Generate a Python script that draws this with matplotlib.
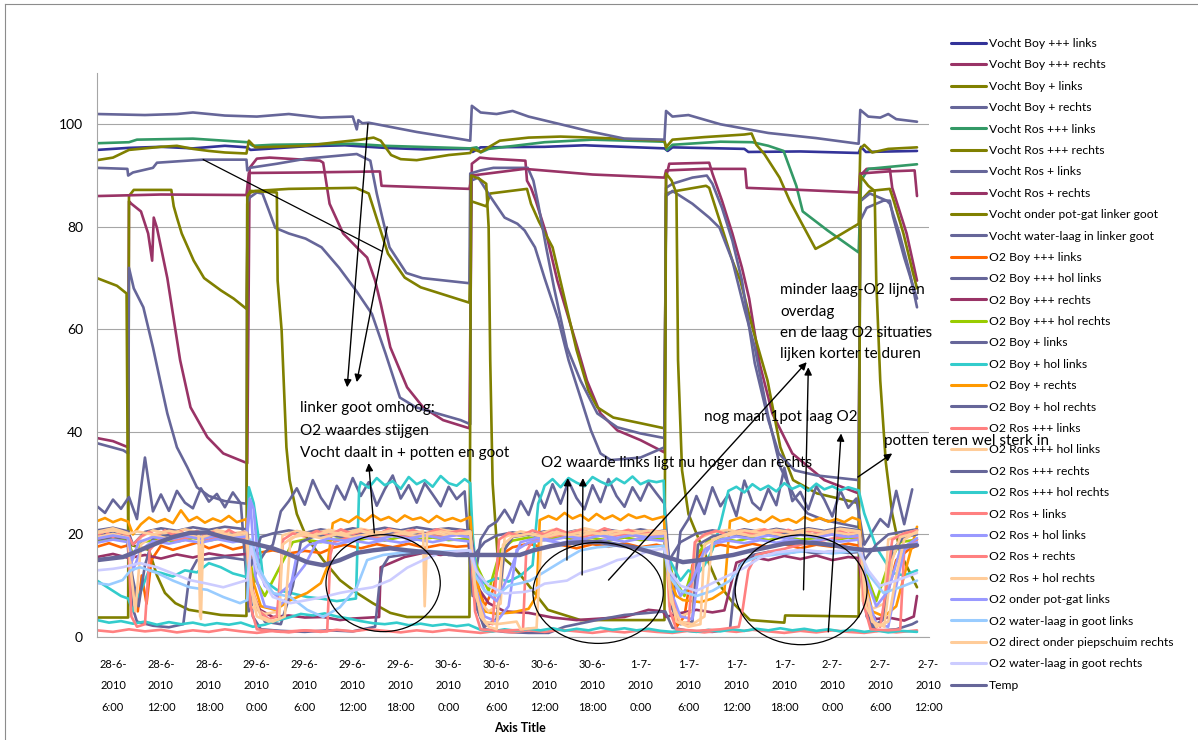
import numpy as np
import matplotlib
matplotlib.use('Agg')
import matplotlib.pyplot as plt
from matplotlib.lines import Line2D
from matplotlib.patches import Ellipse

plt.rcParams['font.family'] = ['Lato', 'DejaVu Sans']

# all times in hours since 28-6-2010 0:00

# --- Vocht (moisture) series: (hour, value) ---
VOCHT_BOY3_LINKS = [(4, 95.0), (8, 95.4), (12, 95.6), (16, 95.3), (20, 95.8), (22.8, 95.5), (23.2, 95.0),
                    (30, 95.7), (35, 95.9), (40, 95.4), (45, 95.1), (50.7, 95.2), (51, 94.6), (52, 95.5),
                    (60, 95.6), (65, 95.9), (70, 95.6), (75, 95.3), (75.4, 94.8), (76, 95.5), (85, 95.2),
                    (85.5, 94.6), (92, 94.7), (99.3, 94.4), (99.6, 95.6), (100.2, 94.6), (106.6, 94.8)]

VOCHT_BOY3_RECHTS = [(4, 38.8), (6, 38.2), (7.9, 37.0), (8.0, 85.0), (8.3, 84.5), (9.5, 83.0), (10.4, 78.7),
                     (10.9, 73.4), (11.1, 81.8), (11.5, 79.8), (12.8, 70.0), (14.4, 54.0), (15.7, 44.8),
                     (17.8, 39.0), (19.8, 35.8), (22.8, 33.9),
                     (23.1, 91.5), (24.0, 93.3), (25.6, 93.5), (31.9, 92.9), (32.3, 92.5), (33.1, 84.5),
                     (34.8, 78.7), (36.5, 76.0), (37.8, 74.0), (38.8, 69.5), (39.5, 65.0), (40.7, 56.5),
                     (42.8, 48.7), (44.8, 44.8), (47.3, 42.3), (50.6, 40.7),
                     (50.9, 92.3), (51.9, 93.5), (53.1, 93.3), (57.6, 92.9), (57.8, 89.0), (58.3, 87.6),
                     (58.9, 85.1), (60.2, 78.7), (61.6, 69.5), (64.1, 56.5), (65.3, 50.0), (67.0, 43.6),
                     (69.1, 40.3), (72.0, 38.4), (75.0, 36.0),
                     (75.2, 89.6), (75.6, 92.3), (80.6, 92.5), (81.0, 90.4), (82.2, 85.1), (83.5, 78.7),
                     (84.7, 72.0), (85.6, 66.0), (86.9, 53.4), (88.5, 43.6), (91.0, 35.8), (95.0, 30.6),
                     (99.3, 28.0),
                     (99.5, 90.0), (100.3, 91.3), (103.2, 91.3), (103.5, 87.6), (105.3, 78.7), (106.6, 69.5)]

VOCHT_BOY_LINKS = [(4, 3.8), (7.9, 3.8), (8.0, 86.0), (8.6, 87.2), (13.3, 87.2), (13.6, 84.0), (14.0, 81.8),
                   (14.6, 78.7), (16.1, 73.4), (17.4, 70.0), (19.5, 67.6), (21.1, 66.0), (22.7, 64.0),
                   (22.9, 86.5), (23.8, 87.0), (28.0, 87.4), (36.4, 87.6), (38.0, 86.5), (38.8, 82.6),
                   (40.4, 74.8), (42.5, 70.1), (44.5, 68.2), (50.6, 65.2),
                   (50.8, 85.0), (52.7, 84.0), (53.2, 86.5), (57.8, 87.4), (58.3, 84.5), (59.3, 81.0),
                   (61.0, 76.0), (62.5, 66.0), (64.0, 56.0), (65.5, 48.0), (66.6, 44.8), (68.6, 42.8),
                   (72.0, 41.7), (75.0, 40.7),
                   (75.2, 86.5), (76.5, 87.0), (80.2, 88.0), (80.6, 87.6), (81.5, 83.2), (82.2, 79.8),
                   (83.5, 73.4), (84.5, 69.5), (86.1, 59.8), (87.9, 50.0), (89.5, 37.0), (91.1, 30.6),
                   (94.1, 28.0), (99.3, 26.1),
                   (99.5, 85.0), (100.7, 87.0), (103.2, 87.4), (103.7, 85.0), (104.9, 78.7), (106.1, 71.0),
                   (106.6, 68.0)]

VOCHT_BOY_RECHTS = [(4, 91.5), (7.8, 91.3), (7.9, 90.0), (8.5, 90.6), (11.0, 91.5), (11.5, 92.5), (17.2, 93.1),
                    (22.7, 93.1), (22.8, 91.0), (23.1, 91.5), (26.5, 92.3), (30.2, 93.3), (36.5, 94.2),
                    (38.2, 92.9), (39.0, 86.5), (39.7, 81.8), (40.6, 76.0), (42.7, 71.0), (44.7, 70.0),
                    (50.6, 69.0),
                    (50.7, 90.4), (52.0, 91.0), (53.6, 91.5), (57.9, 91.5), (58.6, 89.0), (59.2, 84.5),
                    (60.2, 76.0), (61.2, 68.0), (62.8, 56.5), (64.5, 50.0), (66.6, 43.6), (69.1, 40.9),
                    (72.0, 39.7), (75.0, 38.8),
                    (75.2, 87.6), (76.0, 88.4), (78.5, 89.6), (80.3, 90.0), (81.0, 88.4), (82.2, 83.7),
                    (83.5, 77.3), (84.7, 69.5), (86.3, 53.4), (88.0, 42.3), (89.3, 35.8), (91.3, 32.5),
                    (94.1, 31.5), (99.3, 30.6),
                    (99.5, 85.0), (100.7, 86.5), (102.8, 85.1), (103.2, 84.5), (104.4, 78.7), (105.7, 71.0),
                    (106.6, 64.3)]

VOCHT_ROS3_LINKS = [(4, 96.3), (8, 96.5), (9, 97.0), (16, 97.2), (22.8, 96.5), (23.5, 95.8), (26, 96.0),
                    (36, 96.2), (40, 95.8), (50.7, 95.3), (51.5, 95.5), (52, 94.5), (53, 95.2), (60, 96.5),
                    (66, 97.0), (75, 96.6), (75.3, 95.0), (76, 96.0), (82, 96.6), (86, 96.5), (88, 95.8),
                    (89.9, 94.8), (91.5, 88.0), (92.3, 83.0), (95.4, 79.3), (99.3, 75.0), (99.6, 89.0),
                    (100.5, 91.3), (106.6, 92.2)]

VOCHT_ROS3_RECHTS = [(4, 93.0), (6, 93.5), (8, 95.0), (10, 95.3), (12, 95.6), (14, 95.8), (16, 95.2),
                     (18, 94.8), (20, 94.5), (22.7, 94.3), (23.0, 96.8), (23.8, 95.5), (26, 95.6), (30, 95.8),
                     (34, 96.5), (37, 97.0), (38.6, 97.4), (39.5, 96.8), (40.8, 94.0), (42, 93.2), (44, 93.0),
                     (48, 94.0), (50.7, 94.4), (51.0, 95.2), (52, 94.6), (54.4, 96.8), (58, 97.4), (62, 97.6),
                     (66, 97.4), (72, 97.0), (75.0, 96.8), (75.2, 95.5), (76, 97.0), (80, 97.5), (85, 98.0),
                     (85.9, 98.2), (86.5, 96.0), (87.5, 94.2), (89.4, 89.6), (90.7, 85.0), (92, 81.2),
                     (93.9, 75.7), (95.1, 76.7), (99.3, 80.6), (99.5, 95.2), (100, 96.0), (101, 94.5),
                     (103, 95.2), (106.6, 95.5)]

VOCHT_ROS_LINKS = [(4, 37.8), (7.3, 36.4), (7.9, 35.8), (8.0, 72.0), (8.6, 68.0), (9.8, 64.3), (11.0, 56.5),
                   (11.9, 50.0), (12.8, 43.6), (14.0, 37.0), (15.3, 33.1), (16.5, 29.2), (18, 27.5), (20, 26.5),
                   (22.7, 26.0),
                   (22.8, 84.5), (23.1, 85.7), (24.0, 86.7), (24.7, 86.5), (25.5, 83.2), (26.3, 79.8),
                   (28.0, 78.7), (30.1, 77.7), (32.1, 76.0), (34.3, 72.0), (36.4, 67.6), (38.4, 63.0),
                   (40.1, 55.3), (41.9, 46.7), (43.9, 44.8), (49.5, 42.3), (50.7, 41.5),
                   (50.8, 89.0), (51.7, 89.6), (53.3, 85.7), (55.0, 81.8), (56.6, 80.6), (57.5, 79.3),
                   (58.8, 76.0), (60.0, 70.0), (61.7, 62.0), (63.0, 54.0), (64.5, 46.7), (65.8, 40.3),
                   (67.0, 35.8), (68.3, 34.5), (72.0, 35.0), (75.0, 37.0),
                   (75.2, 86.0), (76.0, 87.0), (78.5, 84.5), (80.6, 81.8), (81.9, 79.8), (83.5, 73.4),
                   (85.0, 64.0), (86.3, 56.5), (87.9, 43.6), (89.5, 33.1), (91.3, 27.3), (92.9, 24.1),
                   (95.0, 22.8), (99.3, 21.4),
                   (99.5, 81.2), (100.3, 83.7), (102.4, 85.1), (103.2, 85.1), (103.6, 82.0), (105.0, 74.0),
                   (106.6, 66.0)]

VOCHT_ROS_RECHTS = [(4, 86.0), (12, 86.3), (22.7, 86.2), (23.0, 90.5), (30, 90.6), (39.4, 90.8), (39.6, 88.0),
                    (50.6, 87.4), (50.9, 90.0), (57.5, 91.3), (66, 90.2), (75.0, 89.6), (75.2, 91.0), (80, 91.3),
                    (85.1, 91.3), (85.3, 87.6), (92, 87.2), (99.3, 86.7), (99.5, 90.4), (103, 90.8),
                    (106.3, 91.0), (106.6, 86.0)]

VOCHT_POTGAT_LINKS = [(4, 70.0), (6.5, 68.5), (7.7, 67.0), (7.9, 20.0), (8.1, 18.0), (10.5, 17.0), (11.5, 12.0),
                      (12.5, 8.6), (13.8, 6.6), (15.5, 5.3), (19.5, 4.3), (22.7, 4.1),
                      (22.8, 86.0), (23.2, 87.0), (26.5, 86.7), (26.6, 69.5), (27.1, 59.8), (27.7, 37.0),
                      (28.1, 30.6), (29.0, 24.0), (30.2, 19.5), (32.3, 15.0), (34.4, 11.1), (36.5, 8.6),
                      (38.5, 6.6), (40.7, 4.7), (42.8, 3.9), (50.6, 3.9),
                      (50.8, 90.0), (51.8, 89.4), (52.7, 88.4), (53.0, 80.0), (53.2, 54.0), (53.5, 30.0),
                      (54.1, 16.4), (56.2, 13.6), (58.2, 9.7), (60.4, 5.3), (64.5, 3.3), (75.0, 3.3),
                      (75.2, 90.4), (75.9, 89.0), (76.5, 86.5), (76.7, 54.0), (77.2, 32.5), (78.0, 24.0),
                      (79.5, 18.3), (81.5, 11.0), (83.6, 6.6), (85.7, 3.3), (90.0, 2.8), (90.1, 4.2), (99.3, 4.0),
                      (99.5, 90.0), (100.5, 88.0), (101.3, 87.0), (101.5, 69.5), (102.0, 50.0), (102.7, 34.0),
                      (103.5, 24.0), (104.0, 20.3), (104.5, 16.4), (106.6, 9.7)]

VOCHT_WATER_LINKS = [(4, 102.0), (10, 101.8), (14, 102.0), (16, 102.3), (20, 101.7), (24, 101.5), (28, 102.0),
                     (32, 101.3), (36.0, 101.5), (36.5, 99.0), (36.7, 100.8), (37.2, 100.2), (38, 100.3),
                     (41, 99.4), (44, 98.5), (48, 97.5), (50.7, 96.8), (50.9, 103.6), (52, 102.3), (54, 102.0),
                     (56, 102.6), (58, 101.5), (62, 100.0), (66, 98.5), (70, 97.2), (75.0, 97.0), (75.2, 102.6),
                     (76, 101.5), (78, 101.8), (82, 100.0), (88, 98.3), (94, 97.3), (99.3, 96.2), (99.5, 102.8),
                     (100.5, 101.5), (102, 101.3), (103, 102.0), (104, 101.0), (106.6, 100.5)]

# --- O2 series ---
O2_BOY3_LINKS = [(4, 17.6), (5.5, 18.3), (7, 17.5), (7.9, 17.9), (8.6, 9), (9.1, 5), (9.6, 12), (10.2, 6.5),
                 (10.8, 15), (12, 17.8), (13.5, 17.0), (15, 17.7), (16.5, 18.4), (18, 17.3), (19.5, 18.0),
                 (21, 17.1), (22.7, 17.7), (23.3, 15.5), (24.5, 16.5), (26, 16.9), (28, 16.3), (30, 16.8),
                 (32, 16.4), (33.5, 17.4), (35, 18.0), (37, 17.3), (39, 18.1), (41, 17.5), (43, 18.2),
                 (45, 17.4), (47, 18.0), (49, 17.6), (50.7, 17.8), (51.5, 11), (52.5, 6), (53.5, 9),
                 (54.5, 16), (56, 17.5), (58, 18.2), (60, 17.4), (62, 18.0), (64, 17.3), (66, 18.1),
                 (68, 17.6), (70, 18.3), (72, 17.5), (74, 18.0), (75.1, 17.6), (75.8, 8), (76.5, 2),
                 (77.5, 4), (78.5, 14), (80, 17.2), (82, 18.0), (84, 17.4), (86, 18.2), (88, 17.5), (90, 18.1),
                 (92, 17.3), (94, 18.0), (96, 17.6), (98, 18.2), (99.4, 17.8), (100.2, 6), (101, 1.5),
                 (102, 2.5), (103, 9), (104, 15), (105.5, 17), (106.6, 17.8)]

# hourly readings from 4:00 on 28-6
O2_BOY3_HOL_LINKS = [25.5, 24.2, 26.8, 25.0, 27.3, 23.0, 35.0, 24.5, 27.8, 24.6, 28.5, 26.2, 25.1, 29.0, 26.4,
                     27.9, 25.3, 28.2, 26.0,
                     5.0, 14.0, 16.5, 18.0, 24.5,
                     26.5, 29.0, 25.8, 30.6, 27.2, 25.0, 29.5, 26.8, 31.0, 27.5, 30.2, 25.6, 28.8, 31.5, 27.0,
                     29.6, 26.2, 30.0, 27.8, 25.5, 29.3, 26.9, 28.4,
                     8.0, 19.0, 21.5, 22.5,
                     24.8, 22.3, 26.5, 23.8, 28.5, 25.2, 29.8, 26.0, 30.4, 27.1, 24.9, 29.6, 26.3, 30.8, 27.5,
                     25.4, 29.2, 26.6, 30.1, 28.0,
                     26.0, 6.0, 20.5, 23.0,
                     27.5, 24.0, 29.2, 25.5, 27.8, 23.6, 30.5, 26.2, 24.8, 28.9, 25.7, 33.0, 26.5, 28.3, 24.9,
                     29.4, 26.8, 23.5, 28.6, 25.2, 27.0,
                     18.0, 20.5, 23.0, 21.5, 28.5, 22.0, 28.8]
HOURS = np.arange(4, 4 + len(O2_BOY3_HOL_LINKS))

O2_BOY3_RECHTS = [(4, 15.6), (6, 16.2), (8, 15.4), (10, 16.0), (12, 15.3), (14, 16.1), (16, 15.5), (18, 16.3),
                  (20, 15.8), (22.7, 16.2), (23.3, 9), (24.4, 5.3), (26, 3.9), (28, 4.2), (30, 3.8), (32.3, 3.9),
                  (34.4, 3.3), (36, 3.6), (39.3, 3.9), (39.5, 13.6), (42.5, 15.6), (44.8, 16.4), (47, 16.0),
                  (49, 16.5), (50.7, 16.0), (51.5, 10), (53, 6.6), (55, 5.0), (58, 4.7), (61, 3.8), (64, 3.3),
                  (67, 3.6), (70, 3.9), (73, 5.3), (74.8, 5.0), (75.2, 3.9), (76.5, 4.5), (79, 5.3), (81, 4.8),
                  (82.5, 5.2), (84, 14.5), (86, 15.6), (88, 15.0), (90, 15.8), (92, 15.2), (94, 15.9),
                  (96, 15.0), (98, 15.6), (99.3, 15.4), (100, 6), (101.5, 3.5), (103, 3.8), (105, 3.2),
                  (106.2, 4.0), (106.6, 8.0)]

O2_BOY3_HOL_RECHTS = [(4, 18.6), (6, 19.2), (7.9, 18.8), (8.5, 16), (9.5, 18.5), (12, 19.1), (14, 18.6),
                      (16, 19.3), (18, 18.8), (20, 19.4), (22.7, 18.9), (23.5, 12), (25, 8), (27, 14),
                      (28.5, 18.5), (30, 19.0), (32, 18.5), (34, 19.2), (36, 18.7), (38, 19.3), (40, 18.8),
                      (42, 19.5), (44, 19.0), (46, 19.4), (48, 18.9), (50.7, 19.2), (51.5, 14), (53, 9),
                      (54.5, 17), (56, 18.8), (58, 19.4), (60, 18.9), (62, 19.5), (64, 19.0), (66, 19.3),
                      (68, 18.8), (70, 19.4), (72, 18.9), (75.1, 19.2), (76, 12), (77.5, 8), (79, 16),
                      (80.5, 18.8), (82, 19.3), (84, 18.7), (86, 19.4), (88, 18.9), (90, 19.5), (92, 19.0),
                      (94, 19.3), (96, 18.8), (98, 19.4), (99.4, 19.0), (100.3, 12), (101.5, 7), (103, 14),
                      (104.5, 18.5), (106.6, 19.0)]

O2_BOY_LINKS = [(4, 19.0), (6, 19.5), (7.8, 19.2), (8.4, 6), (9, 3), (11, 2.2), (13, 1.9), (14.8, 2.5),
                (15.4, 10), (15.8, 13), (16.5, 15), (18, 15.2), (20, 15.6), (22.7, 15.0), (23.5, 4), (24.5, 1.5),
                (27, 1.2), (30, 1.0), (33, 1.3), (36, 1.1), (38.8, 2.0), (39.3, 9.7), (39.7, 13.6), (40.5, 15.6),
                (43, 16.2), (46, 16.6), (48, 16.0), (50.7, 16.4), (51.5, 6), (52.5, 1.5), (55, 1.0), (58, 0.8),
                (60.5, 0.8), (62.5, 2.0), (66.5, 3.3), (70, 4.3), (73, 4.7), (75.1, 5.0), (76, 1.8), (78, 1.2),
                (81, 1.0), (83.2, 1.5), (83.7, 9), (84.4, 14), (86, 16.0), (88, 16.6), (90, 16.2), (92, 16.8),
                (94, 16.3), (96, 16.7), (98, 16.4), (99.4, 16.6), (100.3, 4), (101.5, 1.2), (104, 1.5),
                (106, 2.5), (106.6, 3.0)]

O2_BOY_HOL_LINKS = [(4, 11.0), (5, 10.0), (6, 9.0), (7, 8.0), (7.9, 7.5), (8.5, 5.0), (9.5, 9.0), (10.5, 13.0),
                    (12, 12.5), (13.5, 11.8), (15, 13.0), (16.5, 12.6), (18, 14.4), (19.5, 13.6), (21, 12.4),
                    (22.7, 11.7), (23.0, 29.2), (23.6, 26.1), (24.2, 19.5), (24.8, 11.1), (26.5, 9.2),
                    (28.2, 8.6), (30.3, 7.8), (32, 7.5), (34, 7.0), (36.4, 7.5), (36.8, 29.0), (37, 30.2),
                    (38, 29.1), (39, 31.0), (40, 29.6), (41, 30.4), (42, 28.9), (43, 31.2), (44, 29.8),
                    (45, 30.6), (46, 29.3), (47, 31.4), (48, 30.0), (49, 29.5), (50, 30.8), (50.7, 30.0),
                    (51.0, 20.0), (51.5, 12.0), (52.5, 10.5), (54, 11.5), (55.5, 10.8), (57, 12.0), (58.5, 14.0),
                    (59.2, 26.0), (59.8, 28.5), (60, 29.5), (61, 30.8), (62, 29.2), (63, 31.0), (64, 30.1),
                    (65, 29.4), (66, 31.2), (67, 30.3), (68, 29.6), (69, 30.9), (70, 30.0), (71, 31.3),
                    (72, 29.8), (73, 30.5), (74, 30.2), (74.9, 30.5), (75.2, 16.4), (76, 14.0), (77, 11.0),
                    (78, 13.0), (79, 12.0), (80, 14.0), (81, 17.0), (82, 22.0), (83, 28.5), (84, 29.3),
                    (85, 28.2), (86, 29.8), (87, 28.7), (88, 29.5), (89, 28.4), (90, 30.0), (91, 28.9),
                    (92, 29.6), (93, 28.5), (94, 29.9), (95, 28.8), (96, 29.4), (97, 28.6), (98, 29.2),
                    (99.3, 28.6), (100, 24.1), (101.5, 17.5), (103.5, 12.5), (105, 12.0), (106.6, 13.0)]

O2_BOY_RECHTS = [(4, 22.6), (5, 23.2), (6, 22.4), (7, 23.0), (7.9, 22.5), (8.5, 20), (9.5, 22.0), (10.5, 23.3),
                 (11.5, 22.4), (12.5, 23.0), (13.5, 22.2), (14.5, 24.7), (15.5, 22.6), (16.5, 23.4),
                 (17.5, 22.3), (18.5, 23.1), (19.5, 22.5), (20.5, 23.6), (21.5, 22.4), (22.7, 23.0),
                 (23.3, 12), (24.5, 6), (26.3, 5.3), (28.2, 7.2), (30.3, 8.6), (32, 10.5), (32.8, 13.6),
                 (33.5, 22.2), (34.5, 23.0), (35.5, 22.4), (36.5, 23.5), (37.5, 22.6), (38.5, 23.8),
                 (39.5, 22.8), (40.5, 23.4), (41.5, 22.5), (42.5, 23.7), (43.5, 22.9), (44.5, 23.3),
                 (45.5, 22.4), (46.5, 23.6), (47.5, 22.7), (48.5, 23.2), (49.5, 22.6), (50.7, 23.4),
                 (51.3, 12), (52.5, 5), (54, 4.5), (56, 4.8), (58, 5.5), (59, 8), (59.4, 22.8), (60.5, 23.6),
                 (61.5, 22.9), (62.5, 24.2), (63.5, 23.1), (64.5, 23.8), (65.5, 22.7), (66.5, 24.0),
                 (67.5, 23.0), (68.5, 23.7), (69.5, 22.8), (70.5, 23.9), (71.5, 23.2), (72.5, 23.6),
                 (73.5, 22.9), (74.9, 23.5), (75.5, 12), (76.5, 8), (77.3, 7.2), (79.5, 6.8), (81, 7.5),
                 (82.5, 9), (83.2, 22.6), (84.5, 23.3), (85.5, 22.5), (86.5, 23.1), (87.5, 22.4), (88.5, 23.5),
                 (89.5, 22.6), (90.5, 23.0), (91.5, 22.3), (92.5, 23.4), (93.5, 22.7), (94.5, 23.2),
                 (95.5, 22.5), (96.5, 23.0), (97.5, 22.4), (98.5, 23.3), (99.4, 22.8), (100, 12), (101, 5),
                 (102.5, 4), (104, 6), (105.5, 15), (106.6, 21.5)]

O2_BOY_HOL_RECHTS = [(4, 20.8), (6, 21.3), (7.9, 20.6), (8.5, 18), (10, 20.5), (12, 21.2), (14, 20.7), (16, 21.4),
                     (18, 20.9), (20, 21.5), (22.7, 21.0), (23.3, 14), (24.5, 19.5), (26, 20.2), (28, 20.8),
                     (30, 20.3), (32, 21.0), (34, 20.5), (36, 21.2), (38, 20.7), (40, 21.3), (42, 20.8),
                     (44, 21.4), (46, 20.9), (48, 21.2), (50.7, 20.7), (51.2, 16), (52.5, 18.5), (54, 19.8),
                     (56, 20.4), (58, 19.9), (60, 20.6), (62, 20.1), (64, 20.8), (66, 20.3), (68, 20.9),
                     (70, 20.4), (72, 21.0), (74, 20.5), (75.1, 20.8), (75.6, 15), (77, 18.5), (79, 20.2),
                     (81, 20.8), (83, 20.3), (85, 21.0), (87, 20.5), (89, 21.1), (91, 20.6), (93, 21.2),
                     (95, 20.7), (97, 21.3), (99.4, 20.8), (100, 15), (101.5, 18), (103, 20.0), (105, 20.6),
                     (106.6, 21.0)]

O2_ROS3_LINKS = [(4, 1.3), (6, 1.0), (8, 1.5), (10, 1.1), (12, 1.4), (14, 0.9), (16, 1.3), (18, 1.0), (20, 1.5),
                 (22, 1.1), (24, 0.8), (26, 1.2), (28, 0.9), (30, 1.3), (32, 1.0), (34, 1.4), (36, 1.1),
                 (38, 1.5), (40, 1.2), (42, 0.9), (44, 1.3), (46, 1.0), (48, 1.4), (50, 1.1), (52, 0.8),
                 (54, 1.2), (56, 0.9), (58, 1.3), (60, 1.0), (62, 1.4), (64, 1.1), (66, 0.8), (68, 1.2),
                 (70, 0.9), (72, 1.3), (74, 1.0), (76, 0.8), (78, 1.2), (80, 0.9), (82, 1.3), (84, 1.0),
                 (86, 1.4), (88, 1.1), (90, 0.8), (92, 1.2), (94, 0.9), (96, 1.3), (98, 1.0), (100, 0.8),
                 (102, 1.2), (104, 0.9), (106.6, 1.3)]

O2_ROS3_HOL_LINKS = [(4, 20.5), (6, 21.2), (7.8, 20.3), (8.2, 14), (9.5, 19.5), (11, 20.8), (13, 20.1), (15, 21.0),
                     (16.8, 20.4), (17.0, 3.5), (17.3, 20.0), (19, 20.9), (21, 20.2), (22.7, 20.6), (23.2, 6.0),
                     (25, 4.5), (26.8, 5.0), (27.2, 19.8), (29, 20.7), (31, 20.1), (33, 20.9), (35, 20.3),
                     (37, 21.1), (39, 20.5), (41, 20.0), (43, 20.8), (45, 20.2), (47, 21.0), (49, 20.4),
                     (50.7, 20.6), (51.2, 8.0), (53, 5.0), (54.5, 6.5), (55, 19.5), (57, 20.6), (59, 20.0),
                     (61, 20.9), (63, 20.3), (65, 21.2), (67, 20.5), (69, 20.0), (71, 20.8), (73, 20.3),
                     (75.1, 20.7), (75.6, 6.0), (77, 4.0), (78.5, 5.0), (79, 19.0), (81, 20.4), (83, 20.9),
                     (85, 20.2), (87, 21.0), (89, 20.5), (91, 20.1), (93, 20.8), (95, 20.3), (97, 20.9),
                     (99.4, 20.5), (99.8, 7.0), (101, 5.5), (102.5, 6.5), (103, 19.0), (105, 20.2), (106.6, 20.8)]

O2_ROS3_RECHTS = [(4, 19.8), (6, 20.3), (7.9, 19.6), (8.4, 12), (9.2, 6), (10, 14), (11, 19.2), (13, 19.9),
                  (15, 19.4), (17, 20.1), (19, 19.5), (21, 20.2), (22.7, 19.7), (23.4, 8), (25, 3), (27, 2.5),
                  (28.5, 10), (29.5, 18.5), (31, 19.5), (33, 20.0), (35, 19.4), (37, 20.1), (39, 19.6),
                  (41, 20.2), (43, 19.7), (45, 20.3), (47, 19.8), (49, 20.1), (50.7, 19.6), (51.4, 6), (52.5, 2),
                  (54, 3.5), (55, 17), (56, 19.5), (58, 20.0), (60, 19.5), (62, 20.2), (64, 19.7), (66, 20.3),
                  (68, 19.8), (70, 20.1), (72, 19.6), (75.1, 19.9), (75.8, 6), (77, 2.5), (78.5, 3), (79.2, 18),
                  (81, 19.6), (83, 20.2), (85, 19.7), (87, 20.3), (89, 19.8), (91, 20.4), (93, 19.9), (95, 20.2),
                  (97, 19.7), (99.4, 20.0), (100, 8), (101, 2), (102.5, 3.5), (103.5, 17), (105, 19.5),
                  (106.6, 20.0)]

O2_ROS3_HOL_RECHTS = [(4, 3.3), (5.5, 2.8), (7, 3.1), (8.5, 2.6), (10, 3.0), (11.5, 2.4), (13, 2.9), (14.5, 2.5),
                      (16, 2.8), (17.5, 2.3), (19, 2.7), (20.5, 2.4), (22, 2.8), (23.5, 2.0), (25, 2.4),
                      (26.5, 3.2), (28, 3.8), (29.5, 4.5), (31, 4.2), (32.5, 4.6), (34, 4.0), (35.5, 3.6),
                      (37, 3.1), (38.5, 2.7), (40, 2.5), (41.5, 2.8), (43, 2.3), (44.5, 2.6), (46, 2.2),
                      (47.5, 2.5), (49, 2.1), (50.5, 2.4), (52, 1.4), (53.5, 1.1), (55, 1.5), (56.5, 1.2),
                      (58, 1.6), (59.5, 1.3), (61, 1.7), (62.5, 1.2), (64, 1.6), (65.5, 1.3), (67, 1.8),
                      (68.5, 1.4), (70, 1.7), (71.5, 1.3), (73, 1.6), (74.5, 1.2), (76, 1.0), (77.5, 1.3),
                      (79, 1.0), (80.5, 1.4), (82, 1.1), (83.5, 1.5), (85, 1.2), (86.5, 1.6), (88, 1.3),
                      (89.5, 1.7), (91, 1.3), (92.5, 1.6), (94, 1.2), (95.5, 1.5), (97, 1.1), (98.5, 1.4),
                      (100, 1.0), (101.5, 1.3), (103, 0.9), (104.5, 1.2), (106.6, 1.0)]

O2_ROS_LINKS = [(4, 19.2), (6, 19.8), (7.9, 19.3), (8.3, 4), (9, 2), (10, 2.5), (10.6, 17), (12, 19.4), (14, 18.9),
                (16, 19.6), (18, 19.0), (20, 19.7), (22.7, 19.2), (23.2, 6), (24, 1.5), (27, 1.0), (30, 1.3),
                (32.8, 1.1), (33.2, 16), (33.6, 18.5), (35, 19.2), (37, 19.8), (39, 19.3), (41, 19.9),
                (43, 19.4), (45, 20.0), (47, 19.5), (49, 19.9), (50.7, 19.4), (51.3, 5), (52, 1.5), (54, 1.2),
                (57.3, 1.4), (57.7, 16.6), (58.5, 18.8), (60, 19.4), (62, 19.9), (64, 19.3), (66, 20.0),
                (68, 19.5), (70, 20.1), (72, 19.6), (75.1, 19.8), (75.7, 5), (76.5, 1.5), (79, 1.2), (82, 1.5),
                (84.3, 2), (84.8, 5.5), (85.5, 13), (86.5, 16.0), (88, 16.6), (90, 17.2), (92, 18.0),
                (94, 18.6), (96, 19.2), (98, 19.6), (99.4, 19.4), (100, 6), (100.8, 1.5), (103, 1.3),
                (104.5, 1.5), (105, 17), (106.6, 19.0)]

O2_ROS_HOL_LINKS = [(4, 18.4), (6, 19.0), (7.9, 18.5), (8.5, 13), (9.5, 17), (11, 18.7), (13, 18.2), (15, 18.9),
                    (17, 18.4), (19, 19.1), (21, 18.5), (22.7, 18.9), (23.2, 26), (23.8, 12), (25, 6),
                    (26.5, 5.5), (28, 8), (29, 16), (30.5, 18.0), (32, 18.6), (34, 18.1), (36, 18.8), (38, 18.3),
                    (40, 18.9), (42, 18.4), (44, 19.0), (46, 18.5), (48, 19.1), (50.7, 18.6), (51.3, 10),
                    (52.5, 4), (54, 3), (55.5, 6), (56.5, 17), (58, 18.4), (60, 18.9), (62, 18.3), (64, 19.0),
                    (66, 18.5), (68, 19.1), (70, 18.6), (72, 19.2), (75.1, 18.7), (75.8, 9), (77, 4), (78.5, 3.5),
                    (79.5, 15), (81, 18.2), (83, 18.8), (85, 18.3), (87, 18.9), (89, 18.4), (91, 19.0),
                    (93, 18.5), (95, 19.1), (97, 18.6), (99.4, 19.0), (100.2, 9), (101.5, 2.5), (103, 2),
                    (104, 10), (105, 17), (106.6, 18.5)]

O2_ROS_RECHTS = [(4, 19.9), (5, 20.6), (6, 19.5), (7, 20.4), (7.9, 19.8), (8.5, 18), (9.5, 19.6), (10.5, 20.5),
                 (11.5, 19.7), (12.5, 20.8), (13.5, 19.9), (14.5, 20.6), (15.5, 19.6), (16.5, 20.7),
                 (17.5, 19.8), (18.5, 20.5), (19.5, 19.7), (20.5, 20.9), (21.5, 20.0), (22.7, 20.5), (23.3, 10),
                 (24.3, 5), (25.5, 3.5), (26.5, 4), (27.3, 19), (28.5, 20.2), (30, 19.6), (31.5, 20.7),
                 (33, 19.8), (34.5, 21.0), (36, 20.1), (37.5, 20.8), (39, 19.9), (40.5, 21.1), (42, 20.2),
                 (43.5, 20.9), (45, 20.0), (46.5, 21.0), (48, 20.3), (49.5, 20.8), (50.7, 20.1), (51.3, 9),
                 (52.5, 3), (53.5, 2.5), (54.3, 19), (55.5, 20.3), (57, 19.7), (58.5, 20.8), (60, 20.0),
                 (61.5, 21.1), (63, 20.2), (64.5, 20.9), (66, 20.1), (67.5, 21.2), (69, 20.3), (70.5, 20.9),
                 (72, 20.0), (73.5, 20.8), (75.1, 20.3), (75.7, 9), (76.8, 3), (78, 2.5), (78.8, 18.5),
                 (80, 20.0), (81.5, 20.7), (83, 19.9), (84.5, 20.8), (86, 20.1), (87.5, 21.0), (89, 20.2),
                 (90.5, 20.9), (92, 20.0), (93.5, 20.7), (95, 19.9), (96.5, 20.8), (98, 20.1), (99.4, 20.6),
                 (100, 9), (101, 3), (102, 2), (102.8, 10), (103.5, 19), (105, 20.2), (106.6, 20.8)]

O2_ROS_HOL_RECHTS = [(4, 19.5), (6, 20.1), (7.9, 19.4), (8.3, 12), (8.8, 5), (9.5, 18), (11, 19.8), (13, 19.2),
                     (15, 19.9), (17, 19.4), (19, 20.0), (21, 19.5), (22.7, 19.9), (23.2, 10), (24, 4), (25.5, 3),
                     (26.8, 3.5), (27.2, 18), (28.5, 19.5), (30, 19.9), (32, 19.3), (34, 20.0), (36, 19.5),
                     (38, 20.1), (40, 19.6), (42, 20.2), (44, 19.7), (46, 20.3), (48, 19.8), (50.7, 20.1),
                     (51.2, 11), (52, 4), (53, 2), (54, 1.5), (54.8, 18), (56, 19.6), (58, 20.1), (60, 19.5),
                     (62, 20.2), (64, 19.7), (66, 20.3), (68, 19.8), (70, 20.4), (72, 19.9), (75.1, 20.2),
                     (75.6, 10), (76.5, 3), (78, 2), (79.5, 2.5), (80, 18), (82, 19.6), (84, 20.2), (86, 19.7),
                     (88, 20.3), (90, 19.8), (92, 20.4), (94, 19.9), (96, 20.5), (98, 20.0), (99.4, 20.3),
                     (100, 11), (101, 3), (102.5, 2), (103.5, 15), (104.5, 19.5), (106.6, 20.3)]

O2_POTGAT_LINKS = [(4, 19.2), (6, 19.8), (7.9, 19.3), (8.4, 15), (9.2, 18.5), (11, 19.5), (13, 19.0), (15, 19.7),
                   (17, 19.1), (19, 19.8), (21, 19.3), (22.7, 19.6), (23.1, 27), (23.6, 25), (24.2, 14), (25, 10),
                   (26.5, 8), (28, 10), (30, 14), (31.5, 18.5), (33, 19.2), (35, 18.8), (37, 19.5), (39, 19.0),
                   (41, 19.7), (43, 19.2), (45, 19.8), (47, 19.3), (49, 19.9), (50.7, 19.4), (51.3, 14),
                   (52.5, 9), (54, 7), (55.5, 12), (57, 18.5), (59, 19.3), (61, 18.9), (63, 19.6), (65, 19.1),
                   (67, 19.8), (69, 19.3), (71, 19.9), (73, 19.4), (75.1, 19.7), (75.7, 13), (77, 8), (78.5, 11),
                   (80, 17), (82, 19.0), (84, 19.6), (86, 19.1), (88, 19.8), (90, 19.2), (92, 19.9), (94, 19.4),
                   (96, 20.0), (98, 19.5), (99.4, 19.8), (100.1, 12), (101.5, 6), (103, 9), (104.5, 17),
                   (106.6, 19.3)]

O2_WATER_LINKS = [(4, 10.5), (5.5, 10.2), (7.2, 11.1), (8.2, 13.0), (9.4, 13.6), (11.5, 12.5), (13.5, 11.0),
                  (15.6, 9.7), (17.8, 9.2), (19.8, 7.8), (21.9, 6.6), (22.8, 7.2), (23.2, 19), (23.6, 17),
                  (24.4, 13.0), (26.0, 8.6), (28.2, 7.8), (30.3, 5.3), (32.3, 3.9), (34.4, 5.8), (36.5, 9.7),
                  (37.8, 15.0), (39.8, 16.0), (42, 16.4), (44.8, 16.9), (47, 16.6), (50.7, 16.9), (51.3, 12),
                  (52.5, 9), (54, 8), (55.5, 10), (57, 10.5), (58.2, 11.0), (60.3, 13.0), (62.4, 15.0),
                  (64.5, 16.9), (66.6, 17.5), (69, 17.8), (72, 17.4), (74.9, 17.8), (75.5, 12), (77, 9), (79, 8),
                  (81, 9), (83.2, 11.0), (84.8, 14.4), (86.5, 15.6), (90.6, 16.4), (93, 16.8), (96, 16.3),
                  (99.3, 16.8), (100.4, 12.5), (102.4, 8.6), (104.5, 9.7), (106.6, 11.0)]

O2_PIEPSCHUIM_RECHTS = [(4, 20.3), (6, 20.8), (7.9, 20.1), (9, 20.6), (11, 20.0), (13, 20.7), (15, 20.2),
                        (16.7, 20.5), (16.9, 4), (17.2, 19.5), (19, 20.4), (21, 19.9), (22.7, 20.4), (23.4, 9),
                        (24.5, 4), (26, 3), (27.5, 4), (28.2, 19), (29.5, 20.3), (31, 19.8), (33, 20.5), (35, 20.0),
                        (37, 20.7), (39, 20.2), (41, 20.8), (43, 20.3), (44.8, 20.6), (45.0, 6), (45.3, 20),
                        (47, 20.6), (49, 20.1), (50.7, 20.5), (51.4, 8), (52.5, 3), (54, 2.5), (56.5, 3), (57, 1.5),
                        (59, 1.8), (59.6, 19.5), (61, 20.4), (63, 19.9), (65, 20.6), (67, 20.1), (69, 20.7),
                        (71, 20.2), (73, 20.8), (75.1, 20.3), (75.8, 7), (77, 3), (78.5, 2.5), (80, 4), (81, 19.0),
                        (83, 20.2), (85, 20.8), (87, 20.3), (89, 20.9), (91, 20.4), (93, 21.0), (95, 20.5),
                        (97, 21.1), (99.4, 20.6), (100.2, 6), (101.5, 2), (103, 3), (104, 12), (105, 19),
                        (106.6, 20.6)]

O2_WATER_RECHTS = [(4, 13.0), (6, 13.3), (7.2, 13.6), (9.4, 14.4), (11.5, 13.6), (13.5, 12.4), (15.6, 11.1),
                   (17.8, 10.4), (19.8, 9.7), (21.5, 10.5), (22.8, 11.1), (23.3, 17.5), (24, 13.0), (26, 7.8),
                   (28.2, 6.6), (30.3, 7.2), (32.3, 7.8), (34.4, 8.6), (36.5, 9.2), (38.5, 9.7), (40.7, 11.1),
                   (42.8, 13.5), (44.8, 15.0), (46.9, 16.4), (50.7, 16.9), (51.4, 13), (53, 10), (55, 8.5),
                   (57.5, 8.8), (58.6, 9.2), (60, 10.4), (62.8, 11.0), (64.5, 12.5), (67, 13.6), (69.1, 15.0),
                   (71.1, 15.6), (73.2, 16.9), (75.0, 17.2), (75.6, 13), (77, 10), (79, 9), (81, 10.5), (83, 12),
                   (85, 13.5), (87, 15.5), (89, 16.5), (92, 17.0), (95, 16.6), (99.3, 17.1), (100.5, 13),
                   (102, 10), (104, 11), (106.6, 12.5)]

TEMP = [(4, 15.0), (7.25, 15.6), (9.5, 17.0), (11.5, 18.3), (13.5, 19.5), (15.6, 20.3), (17.8, 20.4), (19.8, 19.5),
        (22.8, 18.5), (26.0, 17.3), (28.2, 16.0), (30.3, 14.6), (32.3, 14.0), (34.4, 15.0), (36.5, 16.4),
        (38.5, 16.9), (40.7, 17.3), (42.8, 16.9), (44.8, 16.6), (46.9, 16.4), (49.0, 16.0), (51.0, 16.0),
        (56.9, 16.0), (58.6, 16.9), (60.7, 17.7), (62.8, 18.3), (65, 18.5), (67, 18.5), (69, 18.0), (71.1, 17.5),
        (73.2, 16.6), (75.3, 15.6), (77.3, 14.6), (79.5, 15.0), (81.5, 15.5), (83.6, 16.0), (85.7, 16.8),
        (87.9, 17.5), (90, 18.2), (92, 18.5), (94, 18.3), (96.1, 17.9), (98.2, 17.3), (100.4, 16.9),
        (102.5, 17.2), (104.5, 17.6), (106.6, 17.9)]

X_TICKS = [6, 12, 18, 24, 30, 36, 42, 48, 54, 60, 66, 72, 78, 84, 90, 96, 102, 108]
X_LABELS = ['28-6-\n2010\n6:00', '28-6-\n2010\n12:00', '28-6-\n2010\n18:00',
            '29-6-\n2010\n0:00', '29-6-\n2010\n6:00', '29-6-\n2010\n12:00', '29-6-\n2010\n18:00',
            '30-6-\n2010\n0:00', '30-6-\n2010\n6:00', '30-6-\n2010\n12:00', '30-6-\n2010\n18:00',
            '1-7-\n2010\n0:00', '1-7-\n2010\n6:00', '1-7-\n2010\n12:00', '1-7-\n2010\n18:00',
            '2-7-\n2010\n0:00', '2-7-\n2010\n6:00', '2-7-\n2010\n12:00']

NAVY, PLUM, OLIVE, SLATE = '#333399', '#993366', '#808000', '#666699'
GREEN, RED_OR, LIME, TURQ = '#339966', '#FF6600', '#99CC00', '#33CCCC'
ORANGE, PINK, PEACH, VIOLET = '#FF9900', '#FF8080', '#FFCC99', '#9999FF'
SKY, LAVENDER = '#99CCFF', '#CCCCFF'

SERIES = [
    ('Vocht Boy +++ links', VOCHT_BOY3_LINKS, NAVY),
    ('Vocht Boy +++ rechts', VOCHT_BOY3_RECHTS, PLUM),
    ('Vocht Boy + links', VOCHT_BOY_LINKS, OLIVE),
    ('Vocht Boy + rechts', VOCHT_BOY_RECHTS, SLATE),
    ('Vocht Ros +++ links', VOCHT_ROS3_LINKS, GREEN),
    ('Vocht Ros +++ rechts', VOCHT_ROS3_RECHTS, OLIVE),
    ('Vocht Ros + links', VOCHT_ROS_LINKS, SLATE),
    ('Vocht Ros + rechts', VOCHT_ROS_RECHTS, PLUM),
    ('Vocht onder pot-gat linker goot', VOCHT_POTGAT_LINKS, OLIVE),
    ('Vocht water-laag in linker goot', VOCHT_WATER_LINKS, SLATE),
    ('O2 Boy +++ links', O2_BOY3_LINKS, RED_OR),
    ('O2 Boy +++ hol links', list(zip(HOURS, O2_BOY3_HOL_LINKS)), SLATE),
    ('O2 Boy +++ rechts', O2_BOY3_RECHTS, PLUM),
    ('O2 Boy +++ hol rechts', O2_BOY3_HOL_RECHTS, LIME),
    ('O2 Boy + links', O2_BOY_LINKS, SLATE),
    ('O2 Boy + hol links', O2_BOY_HOL_LINKS, TURQ),
    ('O2 Boy + rechts', O2_BOY_RECHTS, ORANGE),
    ('O2 Boy + hol rechts', O2_BOY_HOL_RECHTS, SLATE),
    ('O2 Ros +++ links', O2_ROS3_LINKS, PINK),
    ('O2 Ros +++ hol links', O2_ROS3_HOL_LINKS, PEACH),
    ('O2 Ros +++ rechts', O2_ROS3_RECHTS, SLATE),
    ('O2 Ros +++ hol rechts', O2_ROS3_HOL_RECHTS, TURQ),
    ('O2 Ros + links', O2_ROS_LINKS, PINK),
    ('O2 Ros + hol links', O2_ROS_HOL_LINKS, VIOLET),
    ('O2 Ros + rechts', O2_ROS_RECHTS, PINK),
    ('O2 Ros + hol rechts', O2_ROS_HOL_RECHTS, PEACH),
    ('O2 onder pot-gat links', O2_POTGAT_LINKS, VIOLET),
    ('O2 water-laag in goot links', O2_WATER_LINKS, SKY),
    ('O2 direct onder piepschuim rechts', O2_PIEPSCHUIM_RECHTS, PEACH),
    ('O2 water-laag in goot rechts', O2_WATER_RECHTS, LAVENDER),
    ('Temp', TEMP, SLATE),
]

W, H = 1198, 740
fig = plt.figure(figsize=(W / 100, H / 100), dpi=100)
ax = fig.add_axes([97 / W, 103 / H, 832 / W, 564 / H])

for label, pts, color in SERIES:
    t, v = zip(*pts)
    lw = 3.2 if label == 'Temp' else 1.9
    ax.plot(t, v, color=color, lw=lw, label=label,
            solid_joinstyle='round', solid_capstyle='round')

ax.set_xlim(4, 108.1)
ax.set_ylim(0, 110)
ax.set_yticks([0, 20, 40, 60, 80, 100])
ax.yaxis.grid(True, color='#a6a6a6', lw=0.8)
ax.set_axisbelow(True)
ax.set_xticks(X_TICKS)
ax.set_xticklabels(X_LABELS, linespacing=2.2)
for side in ('top', 'right'):
    ax.spines[side].set_visible(False)
for side in ('left', 'bottom'):
    ax.spines[side].set_color('#a6a6a6')
ax.tick_params(axis='x', length=0, pad=15.5, labelsize=8)
ax.tick_params(axis='y', length=0, pad=10, labelsize=10)

# notes written on the chart
NOTE_FS = 11
notes = [
    (29.4, 44.6, 'linker goot omhoog:'),
    (29.4, 40.1, 'O2 waardes stijgen'),
    (29.4, 35.8, 'Vocht daalt in + potten en goot'),
    (59.6, 33.9, 'O2 waarde links ligt nu hoger dan rechts'),
    (80.0, 43.0, 'nog maar 1pot laag O2'),
    (102.5, 38.2, 'potten teren wel sterk in'),
    (89.5, 67.6, 'minder laag-O2 lijnen'),
    (89.5, 63.3, 'overdag'),
    (89.5, 59.2, 'en de laag O2 situaties'),
    (89.5, 55.1, 'lijken korter te duren'),
]
for x, y, s in notes:
    ax.text(x, y, s, fontsize=NOTE_FS, ha='left', va='center', clip_on=False, zorder=20)

arrows = [
    ((37.9, 100.1), (35.3, 48.7)),
    ((40.3, 80.0), (36.5, 49.7)),
    ((38.7, 20.3), (38.0, 33.9)),
    ((62.8, 15.0), (62.9, 31.0)),
    ((64.7, 12.1), (64.8, 31.0)),
    ((68.0, 11.1), (92.8, 53.6)),
    ((92.4, 9.2), (93.0, 52.6)),
    ((95.5, 1.0), (97.1, 39.7)),
    ((99.2, 31.2), (103.5, 35.8)),
]
for tail, head in arrows:
    ax.annotate('', xy=head, xytext=tail, annotation_clip=False, zorder=20,
                arrowprops=dict(arrowstyle='-|>', color='black', lw=1.0,
                                mutation_scale=11, shrinkA=0, shrinkB=0))
ax.plot([17.3, 39.7], [93.1, 75.2], color='black', lw=0.9, zorder=20)

for cx, cy, w, h in [(39.8, 10.5, 14.3, 18.9), (66.7, 8.6, 16.3, 19.7), (92.1, 9.2, 16.5, 21.4)]:
    ax.add_patch(Ellipse((cx, cy), w, h, fill=False, ec='black', lw=0.9, zorder=20, clip_on=False))

handles, labels = ax.get_legend_handles_labels()
leg = fig.legend(handles, labels, loc='upper left', bbox_to_anchor=(951 / W, 1 - 38 / H),
                 frameon=False, fontsize=8.7, handlelength=2.9, handletextpad=0.25,
                 labelspacing=0.86, borderaxespad=0, borderpad=0)
for line in leg.get_lines():
    line.set_linewidth(2.2)

fig.text(520 / W, 1 - 728 / H, 'Axis Title', ha='center', va='center', fontsize=9, fontweight='bold')

# chart area border (left and top edges visible)
fig.add_artist(Line2D([5 / W, 5 / W], [0, 1 - 4 / H], transform=fig.transFigure, color='#8c8c8c', lw=0.8))
fig.add_artist(Line2D([5 / W, 1], [1 - 4 / H, 1 - 4 / H], transform=fig.transFigure, color='#8c8c8c', lw=0.8))

fig.savefig('out.png', dpi=100)
